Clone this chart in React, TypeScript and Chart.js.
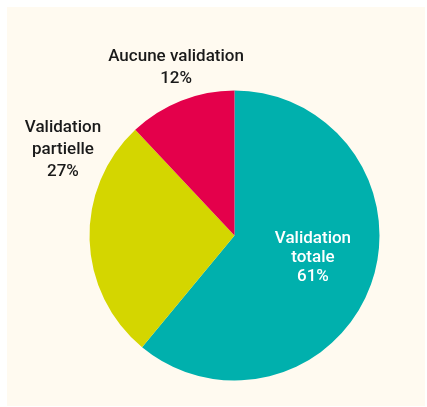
import React, { useEffect, useRef } from "react";
import { Chart, registerables } from "chart.js";

Chart.register(...registerables);

const categories = ["Validation totale", "Validation partielle", "Aucune validation"];
const values = [61, 27, 12];
const labelLines = [
  ["Validation", "totale", "61%"],
  ["Validation", "partielle", "27%"],
  ["Aucune validation", "12%"],
];
const colors = ["#00B0AD", "#D4D600", "#E4004B"];
const textColors = ["#FFFFFF", "#1A1A1A", "#1A1A1A"];
// label centre x and first baseline y, in units of the pie radius; line height in px
const labelOffsets = [
  [0.541, 0.052],
  [-1.183, -0.716],
  [-0.403, -1.206],
];
const lineHeights = [19, 22, 22.6];

const labelPlugin = {
  id: "pieLabels",
  afterDatasetsDraw(chart: any) {
    const meta = chart.getDatasetMeta(0);
    const ctx = chart.ctx;
    ctx.save();
    ctx.font = "500 17px Roboto";
    ctx.textAlign = "center";
    ctx.textBaseline = "alphabetic";
    meta.data.forEach((arc: any, i: number) => {
      const { x, y, outerRadius } = arc.getProps(["x", "y", "outerRadius"], true);
      const cx = x + labelOffsets[i][0] * outerRadius;
      const cy = y + labelOffsets[i][1] * outerRadius;
      const lines = labelLines[i];
      ctx.fillStyle = textColors[i];
      lines.forEach((t, j) => ctx.fillText(t, cx, cy + j * lineHeights[i]));
    });
    ctx.restore();
  },
};

export default function App() {
  const ref = useRef<HTMLCanvasElement>(null);
  useEffect(() => {
    if (!ref.current) return;
    const chart = new Chart(ref.current, {
      type: "pie",
      data: {
        labels: categories,
        datasets: [
          {
            data: values,
            backgroundColor: colors,
            borderWidth: 0,
          },
        ],
      },
      options: {
        responsive: false,
        animation: false,
        layout: { padding: { left: 82.5, right: 45.5, top: 83.5, bottom: 25.5 } },
        plugins: {
          legend: { display: false },
          tooltip: { enabled: false },
        },
      },
      plugins: [labelPlugin],
    });
    return () => chart.destroy();
  }, []);
  return (
    <div
      style={{
        position: "absolute",
        left: 7,
        top: 7,
        width: 418,
        height: 399,
        background: "#FFFAF0",
      }}
    >
      <canvas ref={ref} width={418} height={399} />
    </div>
  );
}
